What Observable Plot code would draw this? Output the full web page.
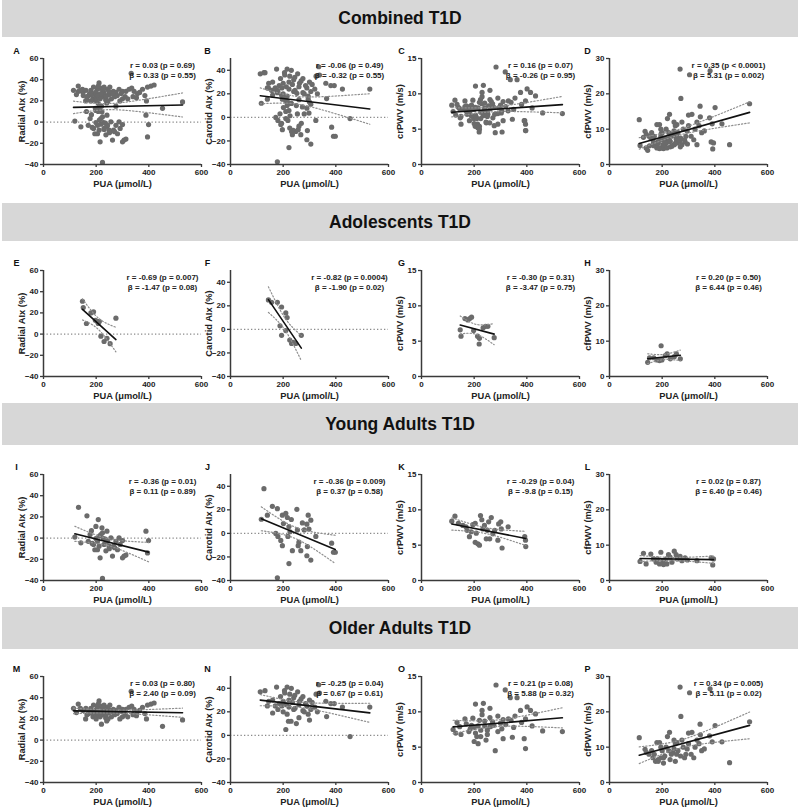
<!DOCTYPE html>
<html><head><meta charset="utf-8">
<script src="https://cdn.jsdelivr.net/npm/d3@7"></script>
<script src="https://cdn.jsdelivr.net/npm/@observablehq/plot@0.6"></script>
<style>
body{margin:0;background:#fff;font-family:"Liberation Sans",Arial,sans-serif;}
#wrap{position:relative;width:800px;height:812px;overflow:hidden;background:#fff;}
.bar{position:absolute;left:2px;width:796px;background:#d7d7d7;font-weight:bold;font-size:17.5px;text-align:center;color:#111;font-family:"Liberation Sans",Arial,sans-serif;}
.panel{position:absolute;}
</style></head>
<body><div id="wrap"></div>
<script>
// ---------- DATA ----------
const sectionTitles = ["Combined T1D", "Adolescents T1D", "Young Adults T1D", "Older Adults T1D"];
const yLabels = ["Radial AIx (%)", "Carotid AIx (%)", "crPWV (m/s)", "cfPWV (m/s)"];
const xLabel = "PUA (μmol/L)";
const xTicks = [0, 200, 400, 600];
const panelLetters = ["A","B","C","D","E","F","G","H","I","J","K","L","M","N","O","P"];
const rTexts = ["r = 0.03 (p = 0.69)","r = -0.06 (p = 0.49)","r = 0.16 (p = 0.07)","r = 0.35 (p < 0.0001)",
  "r = -0.69 (p = 0.007)","r = -0.82 (p = 0.0004)","r = -0.30 (p = 0.31)","r = 0.20 (p = 0.50)",
  "r = -0.36 (p = 0.01)","r = -0.36 (p = 0.009)","r = -0.29 (p = 0.04)","r = 0.02 (p = 0.87)",
  "r = 0.03 (p = 0.80)","r = -0.25 (p = 0.04)","r = 0.21 (p = 0.08)","r = 0.34 (p = 0.005)"];
const bTexts = ["β = 0.33 (p = 0.55)","β = -0.32 (p = 0.55)","β = -0.26 (p = 0.95)","β = 5.31 (p = 0.002)",
  "β = -1.47 (p = 0.08)","β = -1.90 (p = 0.02)","β = -3.47 (p = 0.75)","β = 6.44 (p = 0.46)",
  "β = 0.11 (p = 0.89)","β = 0.37 (p = 0.58)","β = -9.8 (p = 0.15)","β = 6.40 (p = 0.46)",
  "β = 2.40 (p = 0.09)","β = 0.67 (p = 0.61)","β = 5.88 (p = 0.32)","β = 5.11 (p = 0.02)"];

// Adolescents
const adoRadialPUA = [148,151,163,180,190,197,205,212,208,218,230,241,253,275];
const adoRadialAIx = [31,25,10,20,21,13,12,12,10,-2,-7,-4,-9,15];
const adoCarotidPUA = [144,156,178,194,210,215,188,194,210,225,238,248,269,232];
const adoCarotidAIx = [25,23,23,19,14,10,3,-5,-1,-9,-11,-12,-5,-12];
const adoCrPUA = [147,150,165,176,183,190,198,213,219,234,243,252,276,220];
const adoCrPWV = [6.6,5.7,8.2,8.0,8.2,8.4,6.5,5.7,4.6,6.9,7.1,7.1,5.5,5.4];
const adoCfPUA = [145,152,168,180,196,199,212,219,231,246,254,269,190];
const adoCfPWV = [4.0,5.3,5.3,4.7,8.7,4.7,5.9,6.4,5.0,5.6,6.4,5.0,4.5];

// Young adults
const yaRadialPUA = [133,119,142,165,182,199,208,190,195,205,211,215,222,224,228,230,237,224,243,256,266,262,275,281,291,300,306,313,300,389,399,395,177,218,241,249,205,287,199,170,185,250,270,235,212];
const yaRadialAIx = [29,1,-4.5,21,7,11,17.5,-6,-11,-3,-7.6,-18.6,9.7,5,-0.4,-6,-12,-38,-3,0.3,-7.6,-17,-3,-11,-6,-2.3,-17,-16,-18.6,6.5,-2.3,-14,3.4,3.4,6.5,-7.6,-11,0.3,-0.4,-3,-5,-10,-9,-1,2];
const yaCarotidPUA = [127,117,140,159,178,172,180,191,197,201,197,210,216,222,226,218,231,222,235,178,252,254,257,267,260,273,280,290,295,305,298,292,290,305,324,384,391,398];
const yaCarotidAIx = [38,12,15.5,23,21,0,-2.6,-6,-10.4,8.3,15.5,17,13.5,5.8,1.4,-2.6,11.8,-25.6,-14.7,-37.7,20.4,2.9,-10.4,-14.7,-7.5,8.9,2.9,7.8,15.5,11.2,3.7,-11.2,-19,-22.7,-2.6,-8.3,-16,-16];
const yaCrPUA = [115,127,140,157,169,173,182,189,195,204,208,204,214,220,224,229,233,239,250,255,265,246,259,271,278,290,293,301,303,306,329,392,395,396];
const yaCrPWV = [8.4,9.1,8.1,7.8,7.6,7.1,6.2,6.9,7.9,8.1,6.7,5.4,5.2,5.0,9.2,8.6,7.3,7.8,7.1,8.3,8.9,5.9,5.9,6.6,7.1,5.7,8.0,8.3,7.3,4.6,7.6,6.2,5.7,4.8];
const yaCfPUA = [116,129,139,157,167,177,182,195,203,205,215,224,230,237,246,253,258,268,275,287,296,332,386,392,395,190,218];
const yaCfPWV = [5.4,7.7,4.7,7.5,6.1,5.2,6.1,8.0,5.6,4.5,6.1,7.3,6.6,5.2,8.3,7.3,6.1,6.8,5.6,6.4,5.8,5.6,6.4,4.4,6.1,4.7,4.7];

// Older adults
const oaRadialPUA = [114,132,150,161,172,180,188,195,200,205,211,218,222,228,230,236,243,250,258,265,275,287,300,313,325,335,344,357,376,395,408,420,353,391,452,528,333,240,220,200,185,270,300,160,210,
  190,198,205,215,225,232,238,245,252,262,280,295,310,320,340,365,385,175,165,140,125,248,218,208,290];
const oaRadialAIx = [30,34,28,30,25,30,22,27,20,31,37,32,24,28,33,21,31,26,22,29,28,31,29,29,31,32,29,27,31,33,34,35,23,20,13,19,46,18,15,24,26,24,22,20,26,
  33,28,25,22,30,26,24,20,33,27,25,27,24,22,24,28,25,27,24,30,26,29,27,34,20];
const oaCarotidPUA = [113,131,145,160,175,185,195,206,215,222,231,240,244,262,275,290,305,320,338,325,362,381,394,425,529,454,335,200,220,260,300,210,240,170,280,
  190,200,212,225,235,245,255,268,285,300,215,230,250,180,160,140,330,365,205,275,295,222,260,310];
const oaCarotidAIx = [37,38,29,30,41,27,25,36,41,30,40,32,34,29,33,25,22,24,36,35,29,27,27,24,24,-1,43,20,12,15,13,5,22,25,20,
  33,29,26,35,28,23,37,31,27,30,18,12,10,22,19,25,20,16,38,21,18,24,26,28];
const oaCrPUA = [120,135,150,165,180,190,200,210,220,230,240,250,260,270,283,290,300,310,318,337,363,376,401,414,433,390,395,460,535,205,235,225,280,350,215,245,265,330,
  170,185,195,205,215,225,240,250,260,275,290,305,320,340,355,380,145,130,230,260,200,310,345,395,420];
const oaCrPWV = [7.5,8.5,6.8,9,7.2,8.1,7.8,6.5,8.8,9.6,8.0,7.4,9.2,8.6,13.8,7.2,8.4,8.9,13.1,12,12,10.2,10.7,10.2,9.7,6.2,4.8,7.3,7.2,11.1,11.2,6.5,4.5,7.8,5.5,6.0,8.0,9.0,
  8.3,7.6,9.1,7.0,8.0,7.4,8.7,6.8,7.9,8.1,9.4,7.6,8.2,8.8,9.4,8.5,7.9,7.0,10.2,10.5,5.8,6.2,6.4,9.0,8.0];
const oaCfPUA = [113,135,150,165,180,190,200,210,220,228,240,256,268,271,280,290,304,313,332,344,380,382,401,427,456,532,230,250,260,300,215,245,320,350,175,195,205,235,270,185,160,
  170,185,195,205,225,245,255,275,285,295,310,325,340,360,140,300,345,390,250];
const oaCfPWV = [12.7,9.4,8,7,11.3,11.3,9,7.5,13,14.2,8.5,11.3,27,18.7,10,8,25.4,14.2,12,16.5,13.2,26.5,16.1,11.5,5.6,17.2,6.5,6,9,11,10,12,7,9,6,7,5.5,8,7.5,6.5,9,
  8,6,10,7,9,9.5,8,12,7,9.5,8,10,11,9.5,8.5,14,13.5,11.5,11];

// Combined = all three groups together
const allRadialPUA = [...adoRadialPUA, ...yaRadialPUA, ...oaRadialPUA];
const allRadialAIx = [...adoRadialAIx, ...yaRadialAIx, ...oaRadialAIx];
const allCarotidPUA = [...adoCarotidPUA, ...yaCarotidPUA, ...oaCarotidPUA];
const allCarotidAIx = [...adoCarotidAIx, ...yaCarotidAIx, ...oaCarotidAIx];
const allCrPUA = [...adoCrPUA, ...yaCrPUA, ...oaCrPUA];
const allCrPWV = [...adoCrPWV, ...yaCrPWV, ...oaCrPWV];
const allCfPUA = [...adoCfPUA, ...yaCfPUA, ...oaCfPUA];
const allCfPWV = [...adoCfPWV, ...yaCfPWV, ...oaCfPWV];

// ---------- LAYOUT / STYLE ----------
const yScales = [
  {domain: [-40, 60], ticks: [-40,-20,0,20,40,60], zero: true},
  {domain: [-40, 50], ticks: [-40,-20,0,20,40], zero: true},
  {domain: [0, 15], ticks: [0,5,10,15], zero: false},
  {domain: [0, 30], ticks: [0,10,20,30], zero: false}
];
const rowData = [
  [[allRadialPUA, allRadialAIx],[allCarotidPUA, allCarotidAIx],[allCrPUA, allCrPWV],[allCfPUA, allCfPWV]],
  [[adoRadialPUA, adoRadialAIx],[adoCarotidPUA, adoCarotidAIx],[adoCrPUA, adoCrPWV],[adoCfPUA, adoCfPWV]],
  [[yaRadialPUA, yaRadialAIx],[yaCarotidPUA, yaCarotidAIx],[yaCrPUA, yaCrPWV],[yaCfPUA, yaCfPWV]],
  [[oaRadialPUA, oaRadialAIx],[oaCarotidPUA, oaCarotidAIx],[oaCrPUA, oaCrPWV],[oaCfPUA, oaCfPWV]]
];
const barPos = [[0,37],[203,38],[403,42],[607,42]];
const rowTop = [58, 270, 474, 676];
const colAxisX = [43, 230, 421, 609];
const letterDx = [-27, -23, -20, -22];
const plotW = 158, plotH = 106, mL = 43, mR = 4, mT = 18, mB = 32;
const FONT = "'Liberation Sans', Arial, sans-serif";

function tq(df) { const z = 1.959964; return z + (z**3 + z) / (4*df) + (5*z**5 + 16*z**3 + 3*z) / (96*df*df); }
function fit(xs, ys) {
  const n = xs.length, mx = d3.mean(xs), my = d3.mean(ys);
  let sxx = 0, sxy = 0;
  for (let i = 0; i < n; i++) { sxx += (xs[i]-mx)**2; sxy += (xs[i]-mx)*(ys[i]-my); }
  const b = sxy / sxx, a = my - b*mx;
  let sse = 0;
  for (let i = 0; i < n; i++) sse += (ys[i] - a - b*xs[i])**2;
  const s = Math.sqrt(sse / (n-2)), t = tq(n-2);
  const [x0, x1] = d3.extent(xs);
  const xsGrid = d3.ticks(x0, x1, 40).concat([x0, x1]).sort((p, q) => p - q);
  const half = x => t * s * Math.sqrt(1/n + (x-mx)**2 / sxx);
  return {
    line: [{x: x0, y: a + b*x0}, {x: x1, y: a + b*x1}],
    lo: xsGrid.map(x => ({x, y: a + b*x - half(x)})),
    hi: xsGrid.map(x => ({x, y: a + b*x + half(x)}))
  };
}

const wrap = document.getElementById("wrap");
sectionTitles.forEach((t, i) => {
  const d = document.createElement("div");
  d.className = "bar";
  d.style.top = barPos[i][0] + "px";
  d.style.height = barPos[i][1] + "px";
  d.style.lineHeight = barPos[i][1] + "px";
  d.textContent = t;
  wrap.appendChild(d);
});

rowData.forEach((row, r) => {
  row.forEach(([xs, ys], c) => {
    const k = r*4 + c, ys_ = yScales[c];
    const data = xs.map((x, i) => ({x, y: ys[i]}));
    const f = fit(xs, ys);
    const marks = [];
    if (ys_.zero) marks.push(Plot.ruleY([0], {stroke: "#8a8a8a", strokeWidth: 1.1, strokeDasharray: "1.3,2.2"}));
    marks.push(
      Plot.dot(data, {x: "x", y: "y", r: 2.6, fill: "#6b6b6b", stroke: "none"}),
      Plot.line(f.lo, {x: "x", y: "y", stroke: "#8f8f8f", strokeWidth: 1.2, strokeDasharray: "1.3,2", curve: "linear"}),
      Plot.line(f.hi, {x: "x", y: "y", stroke: "#8f8f8f", strokeWidth: 1.2, strokeDasharray: "1.3,2", curve: "linear"}),
      Plot.line(f.line, {x: "x", y: "y", stroke: "#111", strokeWidth: 1.6}),
      Plot.ruleX([0], {stroke: "#3a3a3a", strokeWidth: 1.5}),
      Plot.ruleY([ys_.domain[0]], {stroke: "#3a3a3a", strokeWidth: 1.5}),
      Plot.axisX({ticks: xTicks, tickSize: 3, tickPadding: 2, stroke: "#3a3a3a", strokeWidth: 1.3, label: null}),
      Plot.axisY({ticks: ys_.ticks, tickSize: 3, tickPadding: 2, stroke: "#3a3a3a", strokeWidth: 1.3, label: null}),
      Plot.text([rTexts[k]], {frameAnchor: "top-left", dx: 119, dy: 4, textAnchor: "middle", lineAnchor: "top", fontSize: 8, fontWeight: "bold", fill: "#222"}),
      Plot.text([bTexts[k]], {frameAnchor: "top-left", dx: 119, dy: 14, textAnchor: "middle", lineAnchor: "top", fontSize: 8, fontWeight: "bold", fill: "#222"}),
      Plot.text([panelLetters[k]], {frameAnchor: "top-left", dx: letterDx[c], dy: -7, textAnchor: "middle", lineAnchor: "middle", fontSize: 9, fontWeight: "bold", fill: "#111"}),
      Plot.text([yLabels[c]], {frameAnchor: "left", dx: -21, rotate: -90, textAnchor: "middle", lineAnchor: "middle", fontSize: 9.3, fontWeight: "bold", fill: "#222"}),
      Plot.text([xLabel], {frameAnchor: "bottom", dy: 20, textAnchor: "middle", lineAnchor: "middle", fontSize: 9.3, fontWeight: "bold", fill: "#222"})
    );
    const svg = Plot.plot({
      width: mL + plotW + mR, height: mT + plotH + mB,
      marginLeft: mL, marginRight: mR, marginTop: mT, marginBottom: mB,
      x: {domain: [0, 600], axis: null},
      y: {domain: ys_.domain, axis: null},
      style: {background: "transparent", overflow: "visible", fontFamily: FONT, fontSize: "8px", fontWeight: "bold", color: "#222"},
      marks
    });
    const holder = document.createElement("div");
    holder.className = "panel";
    holder.style.left = (colAxisX[c] - mL) + "px";
    holder.style.top = (rowTop[r] - mT) + "px";
    holder.appendChild(svg);
    wrap.appendChild(holder);
  });
});
</script>
</body></html>
